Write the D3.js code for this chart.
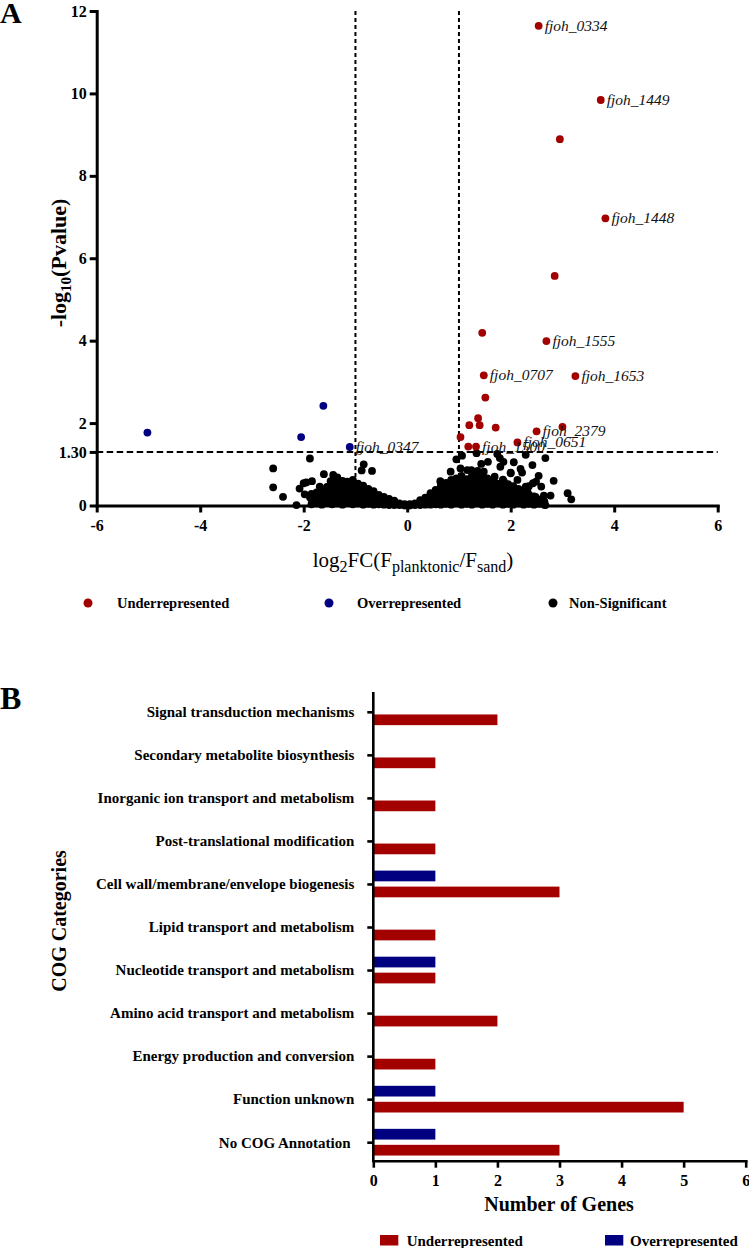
<!DOCTYPE html>
<html><head><meta charset="utf-8">
<script src="https://cdn.jsdelivr.net/npm/d3@7"></script>
<style>
body{margin:0;background:#fff}
svg{display:block}
text{font-family:"Liberation Serif","Times New Roman",serif}
</style>
</head><body>
<svg id="c" width="749" height="1248"></svg>
<script>
// ---------------- Panel A data ----------------
const xTicksA = [-6, -4, -2, 0, 2, 4, 6];
const yTicksA = [0, 1.30, 2, 4, 6, 8, 10, 12];
const yTickLabelsA = ["0", "1.30", "2", "4", "6", "8", "10", "12"];
const fcCutoffs = [-1, 1];
const pCutoff = 1.30;

const underX = [2.54, 3.74, 2.95, 3.83, 2.85, 1.45, 2.69, 1.48, 3.25, 1.51, 1.37, 1.20, 1.40, 1.71, 3.00, 2.50, 1.03, 2.13, 1.18, 1.33];
const underY = [11.64, 9.84, 8.89, 6.97, 5.57, 4.19, 3.99, 3.16, 3.14, 2.62, 2.12, 1.95, 1.95, 1.89, 1.91, 1.80, 1.66, 1.53, 1.43, 1.43];
const underLabel = ["fjoh_0334", "fjoh_1449", "", "fjoh_1448", "", "", "fjoh_1555", "fjoh_0707", "fjoh_1653", "", "", "", "", "", "", "fjoh_2379", "", "fjoh_0651", "", "fjoh_1500"];

const overX = [-5.02, -1.62, -2.05, -1.11];
const overY = [1.77, 2.42, 1.66, 1.42];
const overLabel = ["", "", "", "fjoh_0347"];

const nonSigOutliers = [
  [-2.59,0.90],[-2.59,0.44],[-2.40,0.21],[-2.14,0.01],[-1.88,1.14],[-2.08,0.41],[-2.00,0.54],[-1.95,0.56],
  [-1.84,0.59],[-1.98,0.27],[-1.88,0.20],[-1.61,0.76],[-1.43,0.74],[-1.48,0.59],[-1.35,0.68],[-1.69,0.46],
  [-0.84,1.00],[-0.88,0.85],[-0.68,0.84],[-1.16,0.58],
  [0.95,1.12],[1.06,1.21],[1.24,0.86],[1.34,1.27],[1.43,1.01],[1.56,1.06],[1.74,1.25],[1.79,1.15],
  [1.86,1.06],[2.06,1.05],[2.29,1.23],[2.42,0.98],[2.67,1.15],[2.19,0.89],[2.22,0.80],[2.43,0.54],
  [2.29,0.46],[2.49,0.58],[2.59,0.46],[2.83,0.60],[3.10,0.30],[3.17,0.15],[2.64,0.24],[2.77,0.24],
  [2.48,0.21],[2.00,0.78],[1.87,0.58],[1.93,0.46],[1.69,0.70],[1.48,0.82],[1.38,0.70],[1.16,0.86],
  [1.03,0.90],[0.84,0.82],[0.64,0.59],[2.13,0.62],[2.32,0.38],[2.67,0.01],[1.36,0.84],[1.80,0.94],
  [2.00,0.80],[2.54,0.72],[2.35,0.47]
];
const nonSigCore = [
  [-1.85,0.03],[-1.85,0.15],[-1.85,0.28],
  [-1.75,0.05],[-1.75,0.18],[-1.75,0.32],
  [-1.65,0.02],[-1.65,0.12],[-1.65,0.25],[-1.65,0.38],
  [-1.55,0.06],[-1.55,0.18],[-1.55,0.30],[-1.55,0.45],
  [-1.45,0.03],[-1.45,0.14],[-1.45,0.26],[-1.45,0.38],[-1.45,0.50],
  [-1.35,0.05],[-1.35,0.17],[-1.35,0.29],[-1.35,0.41],[-1.35,0.55],
  [-1.25,0.02],[-1.25,0.13],[-1.25,0.25],[-1.25,0.37],[-1.25,0.49],[-1.25,0.60],
  [-1.15,0.06],[-1.15,0.18],[-1.15,0.30],[-1.15,0.42],[-1.15,0.54],
  [-1.05,0.03],[-1.05,0.14],[-1.05,0.26],[-1.05,0.38],[-1.05,0.50],[-1.05,0.62],
  [-0.95,0.05],[-0.95,0.17],[-0.95,0.29],[-0.95,0.41],[-0.95,0.53],
  [-0.85,0.02],[-0.85,0.13],[-0.85,0.25],[-0.85,0.37],[-0.85,0.48],
  [-0.75,0.04],[-0.75,0.15],[-0.75,0.27],[-0.75,0.40],
  [-0.65,0.02],[-0.65,0.12],[-0.65,0.24],[-0.65,0.35],
  [-0.55,0.03],[-0.55,0.14],[-0.55,0.26],
  [-0.45,0.02],[-0.45,0.11],[-0.45,0.21],
  [-0.35,0.01],[-0.35,0.09],[-0.35,0.16],
  [-0.25,0.01],[-0.25,0.07],[-0.25,0.12],
  [-0.15,0.01],[-0.15,0.05],
  [-0.05,0.00],[-0.05,0.03],
  [0.05,0.00],[0.05,0.03],
  [0.15,0.01],[0.15,0.05],
  [0.25,0.01],[0.25,0.07],[0.25,0.13],
  [0.35,0.02],[0.35,0.10],[0.35,0.19],
  [0.45,0.02],[0.45,0.12],[0.45,0.24],[0.45,0.30],
  [0.55,0.03],[0.55,0.14],[0.55,0.26],[0.55,0.38],
  [0.65,0.02],[0.65,0.13],[0.65,0.25],[0.65,0.37],[0.65,0.48],
  [0.75,0.04],[0.75,0.16],[0.75,0.28],[0.75,0.40],[0.75,0.55],
  [0.85,0.02],[0.85,0.13],[0.85,0.25],[0.85,0.37],[0.85,0.49],[0.85,0.62],
  [0.95,0.05],[0.95,0.17],[0.95,0.29],[0.95,0.41],[0.95,0.53],[0.95,0.66],
  [1.05,0.02],[1.05,0.14],[1.05,0.26],[1.05,0.38],[1.05,0.50],[1.05,0.62],[1.05,0.72],
  [1.15,0.04],[1.15,0.16],[1.15,0.28],[1.15,0.40],[1.15,0.52],[1.15,0.64],
  [1.25,0.02],[1.25,0.13],[1.25,0.25],[1.25,0.37],[1.25,0.49],[1.25,0.61],[1.25,0.73],
  [1.35,0.05],[1.35,0.17],[1.35,0.29],[1.35,0.41],[1.35,0.53],[1.35,0.65],
  [1.45,0.02],[1.45,0.14],[1.45,0.26],[1.45,0.38],[1.45,0.50],[1.45,0.62],[1.45,0.74],
  [1.55,0.04],[1.55,0.16],[1.55,0.28],[1.55,0.40],[1.55,0.52],[1.55,0.66],
  [1.65,0.02],[1.65,0.13],[1.65,0.25],[1.65,0.37],[1.65,0.49],[1.65,0.61],
  [1.75,0.05],[1.75,0.17],[1.75,0.29],[1.75,0.41],[1.75,0.53],
  [1.85,0.02],[1.85,0.14],[1.85,0.26],[1.85,0.38],[1.85,0.50],[1.85,0.63],
  [1.95,0.04],[1.95,0.16],[1.95,0.28],[1.95,0.40],[1.95,0.52],
  [2.05,0.02],[2.05,0.13],[2.05,0.25],[2.05,0.37],[2.05,0.47],
  [2.15,0.05],[2.15,0.17],[2.15,0.29],[2.15,0.40],
  [2.25,0.02],[2.25,0.14],[2.25,0.26],[2.25,0.36],
  [2.35,0.04],[2.35,0.15],[2.35,0.27],
  [2.45,0.02],[2.45,0.12],[2.45,0.22],
  [2.55,0.04],[2.55,0.14],
  [2.65,0.02],[2.65,0.10]
];

const legendA = ["Underrepresented", "Overrepresented", "Non-Significant"];

// ---------------- Panel B data ----------------
const cogCategories = [
  "Signal transduction mechanisms",
  "Secondary metabolite biosynthesis",
  "Inorganic ion transport and metabolism",
  "Post-translational modification",
  "Cell wall/membrane/envelope biogenesis",
  "Lipid transport and metabolism",
  "Nucleotide transport and metabolism",
  "Amino acid transport and metabolism",
  "Energy production and conversion",
  "Function unknown",
  "No COG Annotation "
];
const underCounts = [2, 1, 1, 1, 3, 1, 1, 2, 1, 5, 3];
const overCounts  = [0, 0, 0, 0, 1, 0, 1, 0, 0, 1, 1];
const xTicksB = [0, 1, 2, 3, 4, 5, 6];
const seriesB = ["Overrepresented", "Underrepresented"];

// ---------------- styles ----------------
const RED = "#a30000", BLUE = "#000080", BLACK = "#000";
const svg = d3.select("#c");

// ================= Panel A =================
const xA = d3.scaleLinear().domain([-6, 6]).range([96.7, 717.7]);
const yA = d3.scaleLinear().domain([0, 12]).range([505.5, 11]);

svg.append("text").attr("x", 0).attr("y", 23).attr("font-size", 30).attr("font-weight", "bold").text("A");

// threshold lines
const gA = svg.append("g");
gA.selectAll("line.v").data(fcCutoffs).join("line")
  .attr("x1", d => xA(d)).attr("x2", d => xA(d))
  .attr("y1", yA(12)).attr("y2", yA(0))
  .attr("stroke", BLACK).attr("stroke-width", 2).attr("stroke-dasharray", "4,3");
gA.append("line")
  .attr("x1", xA(-6)).attr("x2", xA(6)).attr("y1", yA(pCutoff)).attr("y2", yA(pCutoff))
  .attr("stroke", BLACK).attr("stroke-width", 2).attr("stroke-dasharray", "6.5,3.5");

const R = 3.9;
gA.selectAll("circle.ns").data(nonSigCore.concat(nonSigOutliers)).join("circle")
  .attr("cx", d => xA(d[0])).attr("cy", d => yA(d[1])).attr("r", R).attr("fill", BLACK);
gA.selectAll("circle.ov").data(overX.map((x, i) => ({x, y: overY[i], l: overLabel[i]}))).join("circle")
  .attr("cx", d => xA(d.x)).attr("cy", d => yA(d.y)).attr("r", R).attr("fill", BLUE);
const underData = underX.map((x, i) => ({x, y: underY[i], l: underLabel[i]}));
gA.append("g").selectAll("circle").data(underData).join("circle")
  .attr("cx", d => xA(d.x)).attr("cy", d => yA(d.y)).attr("r", R).attr("fill", RED);

const labelled = underData.concat(overX.map((x, i) => ({x, y: overY[i], l: overLabel[i]}))).filter(d => d.l);
gA.append("g").selectAll("text").data(labelled).join("text")
  .attr("x", d => xA(d.x) + 6).attr("y", d => yA(d.y) + 5)
  .attr("font-size", 15.5).attr("font-style", "italic").attr("fill", "#111").text(d => d.l);

// axes
const axYA = svg.append("g").attr("transform", `translate(${xA(-6)},0)`)
  .call(d3.axisLeft(yA).tickValues(yTicksA).tickFormat((d, i) => yTickLabelsA[i]).tickSize(7).tickSizeOuter(0).tickPadding(3));
const axXA = svg.append("g").attr("transform", `translate(0,${yA(0)})`)
  .call(d3.axisBottom(xA).tickValues(xTicksA).tickFormat(d => d < 0 ? "-" + Math.abs(d) : String(d)).tickSize(7).tickSizeOuter(0).tickPadding(7));
[axYA, axXA].forEach(ax => {
  ax.select(".domain").attr("stroke-width", 3).attr("stroke-linecap", "square");
  ax.selectAll(".tick line").attr("stroke-width", 3);
  ax.selectAll(".tick text").attr("font-family", "Liberation Serif").attr("font-size", 16).attr("font-weight", "bold").attr("fill", BLACK);
});

// axis titles
const ytA = svg.append("text").attr("transform", "translate(66,263) rotate(-90)")
  .attr("text-anchor", "middle").attr("font-size", 22).attr("font-weight", "bold");
ytA.append("tspan").text("-log");
ytA.append("tspan").attr("dy", 5).attr("font-size", 15).text("10");
ytA.append("tspan").attr("dy", -5).text("(Pvalue)");

const xtA = svg.append("text").attr("x", 413).attr("y", 567).attr("text-anchor", "middle").attr("font-size", 21);
xtA.append("tspan").text("log");
xtA.append("tspan").attr("dy", 5).attr("font-size", 16).text("2");
xtA.append("tspan").attr("dy", -5).text("FC(F");
xtA.append("tspan").attr("dy", 5).attr("font-size", 16).text("planktonic");
xtA.append("tspan").attr("dy", -5).text("/F");
xtA.append("tspan").attr("dy", 5).attr("font-size", 16).text("sand");
xtA.append("tspan").attr("dy", -5).text(")");

// legend A
const legAColors = [RED, BLUE, BLACK];
const legADotX = [88, 329, 553];
const legATextX = [117, 357, 569];
const lgA = svg.append("g").selectAll("g").data(legendA).join("g");
lgA.append("circle").attr("cx", (d, i) => legADotX[i]).attr("cy", 603).attr("r", 4.5).attr("fill", (d, i) => legAColors[i]);
lgA.append("text").attr("x", (d, i) => legATextX[i]).attr("y", 608).attr("font-size", 14.5).attr("font-weight", "bold").text(d => d);

// ================= Panel B =================
svg.append("text").attr("x", 0).attr("y", 709).attr("font-size", 32).attr("font-weight", "bold").text("B");

const xB = d3.scaleLinear().domain([0, 6]).range([373.3, 745.7]);
const yB = d3.scalePoint().domain(cogCategories).range([693.3, 1160.7]).padding(0.43);
const inner = d3.scaleBand().domain(seriesB).range([-13.35, 13.35]).paddingInner(0.33);
const colorB = d3.scaleOrdinal().domain(seriesB).range([BLUE, RED]);

const barData = [];
cogCategories.forEach((c, i) => {
  barData.push({c, s: "Overrepresented", v: overCounts[i]});
  barData.push({c, s: "Underrepresented", v: underCounts[i]});
});
svg.append("g").selectAll("rect").data(barData.filter(d => d.v > 0)).join("rect")
  .attr("x", xB(0)).attr("y", d => yB(d.c) + inner(d.s))
  .attr("width", d => xB(d.v) - xB(0)).attr("height", inner.bandwidth())
  .attr("fill", d => colorB(d.s));

const axYB = svg.append("g").attr("transform", `translate(${xB(0)},0)`)
  .call(d3.axisLeft(yB).tickSize(6).tickSizeOuter(0).tickPadding(13));
axYB.select(".domain").attr("d", `M0,693.3V1160.7`);
const axXB = svg.append("g").attr("transform", `translate(0,1160.7)`)
  .call(d3.axisBottom(xB).tickValues(xTicksB).tickFormat(d3.format("d")).tickSize(7).tickSizeOuter(0).tickPadding(7));
[axYB, axXB].forEach(ax => {
  ax.select(".domain").attr("stroke-width", 2.6).attr("stroke-linecap", "square");
  ax.selectAll(".tick line").attr("stroke-width", 2.6);
  ax.selectAll(".tick text").attr("font-family", "Liberation Serif").attr("font-size", 15).attr("font-weight", "bold").attr("fill", BLACK);
});
axXB.selectAll(".tick text").attr("font-size", 16);
axYB.selectAll(".tick text").attr("xml:space", "preserve").style("white-space", "pre");

svg.append("text").attr("transform", "translate(66,921) rotate(-90)")
  .attr("text-anchor", "middle").attr("font-size", 20).attr("font-weight", "bold").text("COG Categories");
svg.append("text").attr("x", 559).attr("y", 1211)
  .attr("text-anchor", "middle").attr("font-size", 20).attr("font-weight", "bold").text("Number of Genes");

// legend B
const legBOrder = ["Underrepresented", "Overrepresented"];
const legBRectX = [380, 605];
const legBTextX = [406.7, 630];
const lgB = svg.append("g").selectAll("g").data(legBOrder).join("g");
lgB.append("rect").attr("x", (d, i) => legBRectX[i]).attr("y", 1235).attr("width", 18.3).attr("height", 10.5).attr("fill", d => colorB(d));
lgB.append("text").attr("x", (d, i) => legBTextX[i]).attr("y", 1245.5).attr("font-size", 15).attr("font-weight", "bold").text(d => d);
</script>
</body></html>
